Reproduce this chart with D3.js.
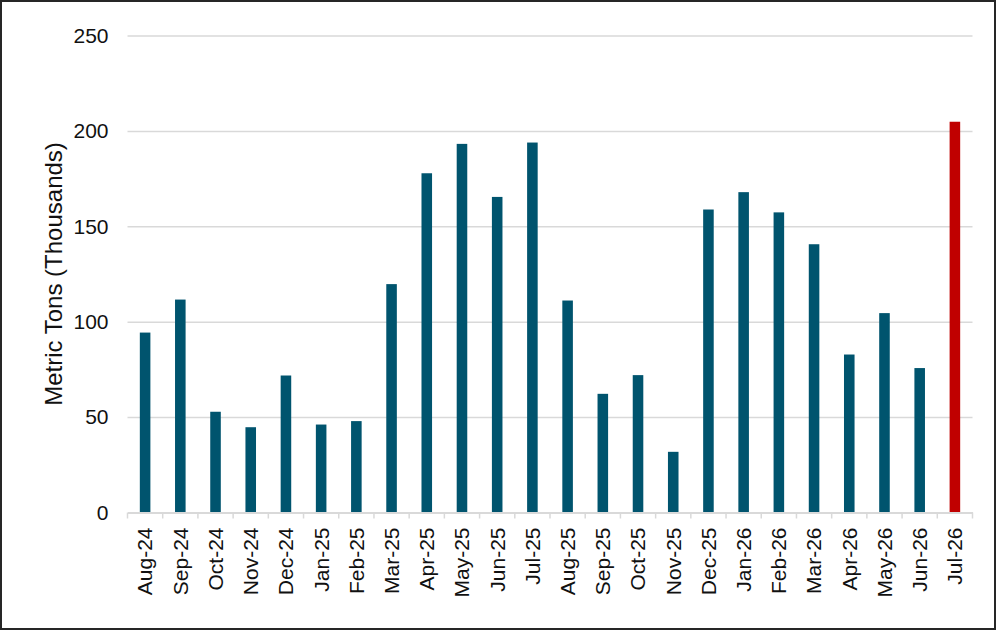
<!DOCTYPE html>
<html>
<head>
<meta charset="utf-8">
<script src="https://d3js.org/d3.v7.min.js"></script>
<style>
  html, body { margin: 0; padding: 0; background: #fff; }
  svg { display: block; font-family: "Liberation Sans", Arial, sans-serif; }
</style>
</head>
<body>
<script>
// months shown on the x axis
var months = ["Aug-24", "Sep-24", "Oct-24", "Nov-24", "Dec-24", "Jan-25", "Feb-25", "Mar-25",
              "Apr-25", "May-25", "Jun-25", "Jul-25", "Aug-25", "Sep-25", "Oct-25", "Nov-25",
              "Dec-25", "Jan-26", "Feb-26", "Mar-26", "Apr-26", "May-26", "Jun-26", "Jul-26"];
// thousands of metric tons
var tons = [94.3, 111.6, 52.8, 44.7, 71.8, 46.1, 47.9, 119.7,
            177.8, 193.2, 165.4, 193.9, 111.1, 62.2, 72.0, 31.8,
            158.8, 167.9, 157.3, 140.6, 82.8, 104.5, 75.7, 204.8];
var highlight = ["Jul-26"];
var yTicks = [0, 50, 100, 150, 200, 250];

var w = 999, h = 633;
var padLeft = 127.5, padRight = 972.5, padTop = 35.5, padBottom = 512.5;

var svg = d3.select("body").append("svg")
    .attr("width", w)
    .attr("height", h);

// outer frame
svg.append("rect")
    .attr("x", 1).attr("y", 1)
    .attr("width", w - 5).attr("height", h - 5)
    .attr("fill", "none")
    .attr("stroke", "#262626")
    .attr("stroke-width", 2);

var x = d3.scaleBand()
    .domain(months)
    .range([padLeft, padRight])
    .paddingInner(0.7)
    .paddingOuter(0.35);

var xb = d3.scaleBand()
    .domain(months)
    .range([padLeft, padRight]);

var y = d3.scaleLinear()
    .domain([0, 250])
    .range([padBottom, padTop]);

// gridlines + y labels
var yAxis = svg.append("g")
    .attr("transform", "translate(" + padLeft + ",0)")
    .call(d3.axisLeft(y).tickValues(yTicks).tickSize(-(padRight - padLeft)).tickPadding(19));
yAxis.select(".domain").remove();
yAxis.selectAll(".tick line")
    .attr("stroke", "#d9d9d9")
    .attr("stroke-width", 1.5)
    .filter(function(d) { return d === 0; }).remove();
yAxis.selectAll(".tick text")
    .attr("font-size", 21)
    .attr("font-family", "Liberation Sans, Arial, sans-serif")
    .attr("fill", "#111");

// bars
svg.selectAll("rect.bar")
    .data(months)
    .enter().append("rect")
    .attr("class", "bar")
    .attr("x", function(d) { return x(d); })
    .attr("width", x.bandwidth())
    .attr("y", function(d, i) { return y(tons[i]); })
    .attr("height", function(d, i) { return padBottom - y(tons[i]); })
    .attr("fill", function(d) { return highlight.indexOf(d) >= 0 ? "#c00000" : "#00546e"; });

// x axis with ticks at category boundaries
var xAxis = svg.append("g")
    .attr("transform", "translate(0," + padBottom + ")")
    .call(d3.axisBottom(xb).tickSize(0).tickPadding(0));
xAxis.select(".domain")
    .attr("stroke", "#d9d9d9")
    .attr("stroke-width", 2);
xAxis.selectAll(".tick text")
    .attr("font-size", 21)
    .attr("font-family", "Liberation Sans, Arial, sans-serif")
    .attr("fill", "#111")
    .attr("text-anchor", "end")
    .attr("transform", "rotate(-90)")
    .attr("x", -15)
    .attr("y", 0)
    .attr("dy", "0.35em");

var bounds = months.map(function(d) { return xb(d); }).concat([padRight]);
svg.append("g").selectAll("line")
    .data(bounds)
    .enter().append("line")
    .attr("x1", function(d) { return d; })
    .attr("x2", function(d) { return d; })
    .attr("y1", padBottom)
    .attr("y2", padBottom + 6)
    .attr("stroke", "#d9d9d9")
    .attr("stroke-width", 1.5);

// y axis title
svg.append("text")
    .attr("transform", "translate(62," + ((padTop + padBottom) / 2) + ") rotate(-90)")
    .attr("text-anchor", "middle")
    .attr("font-size", 24)
    .attr("fill", "#111")
    .text("Metric Tons (Thousands)");
</script>
</body>
</html>
